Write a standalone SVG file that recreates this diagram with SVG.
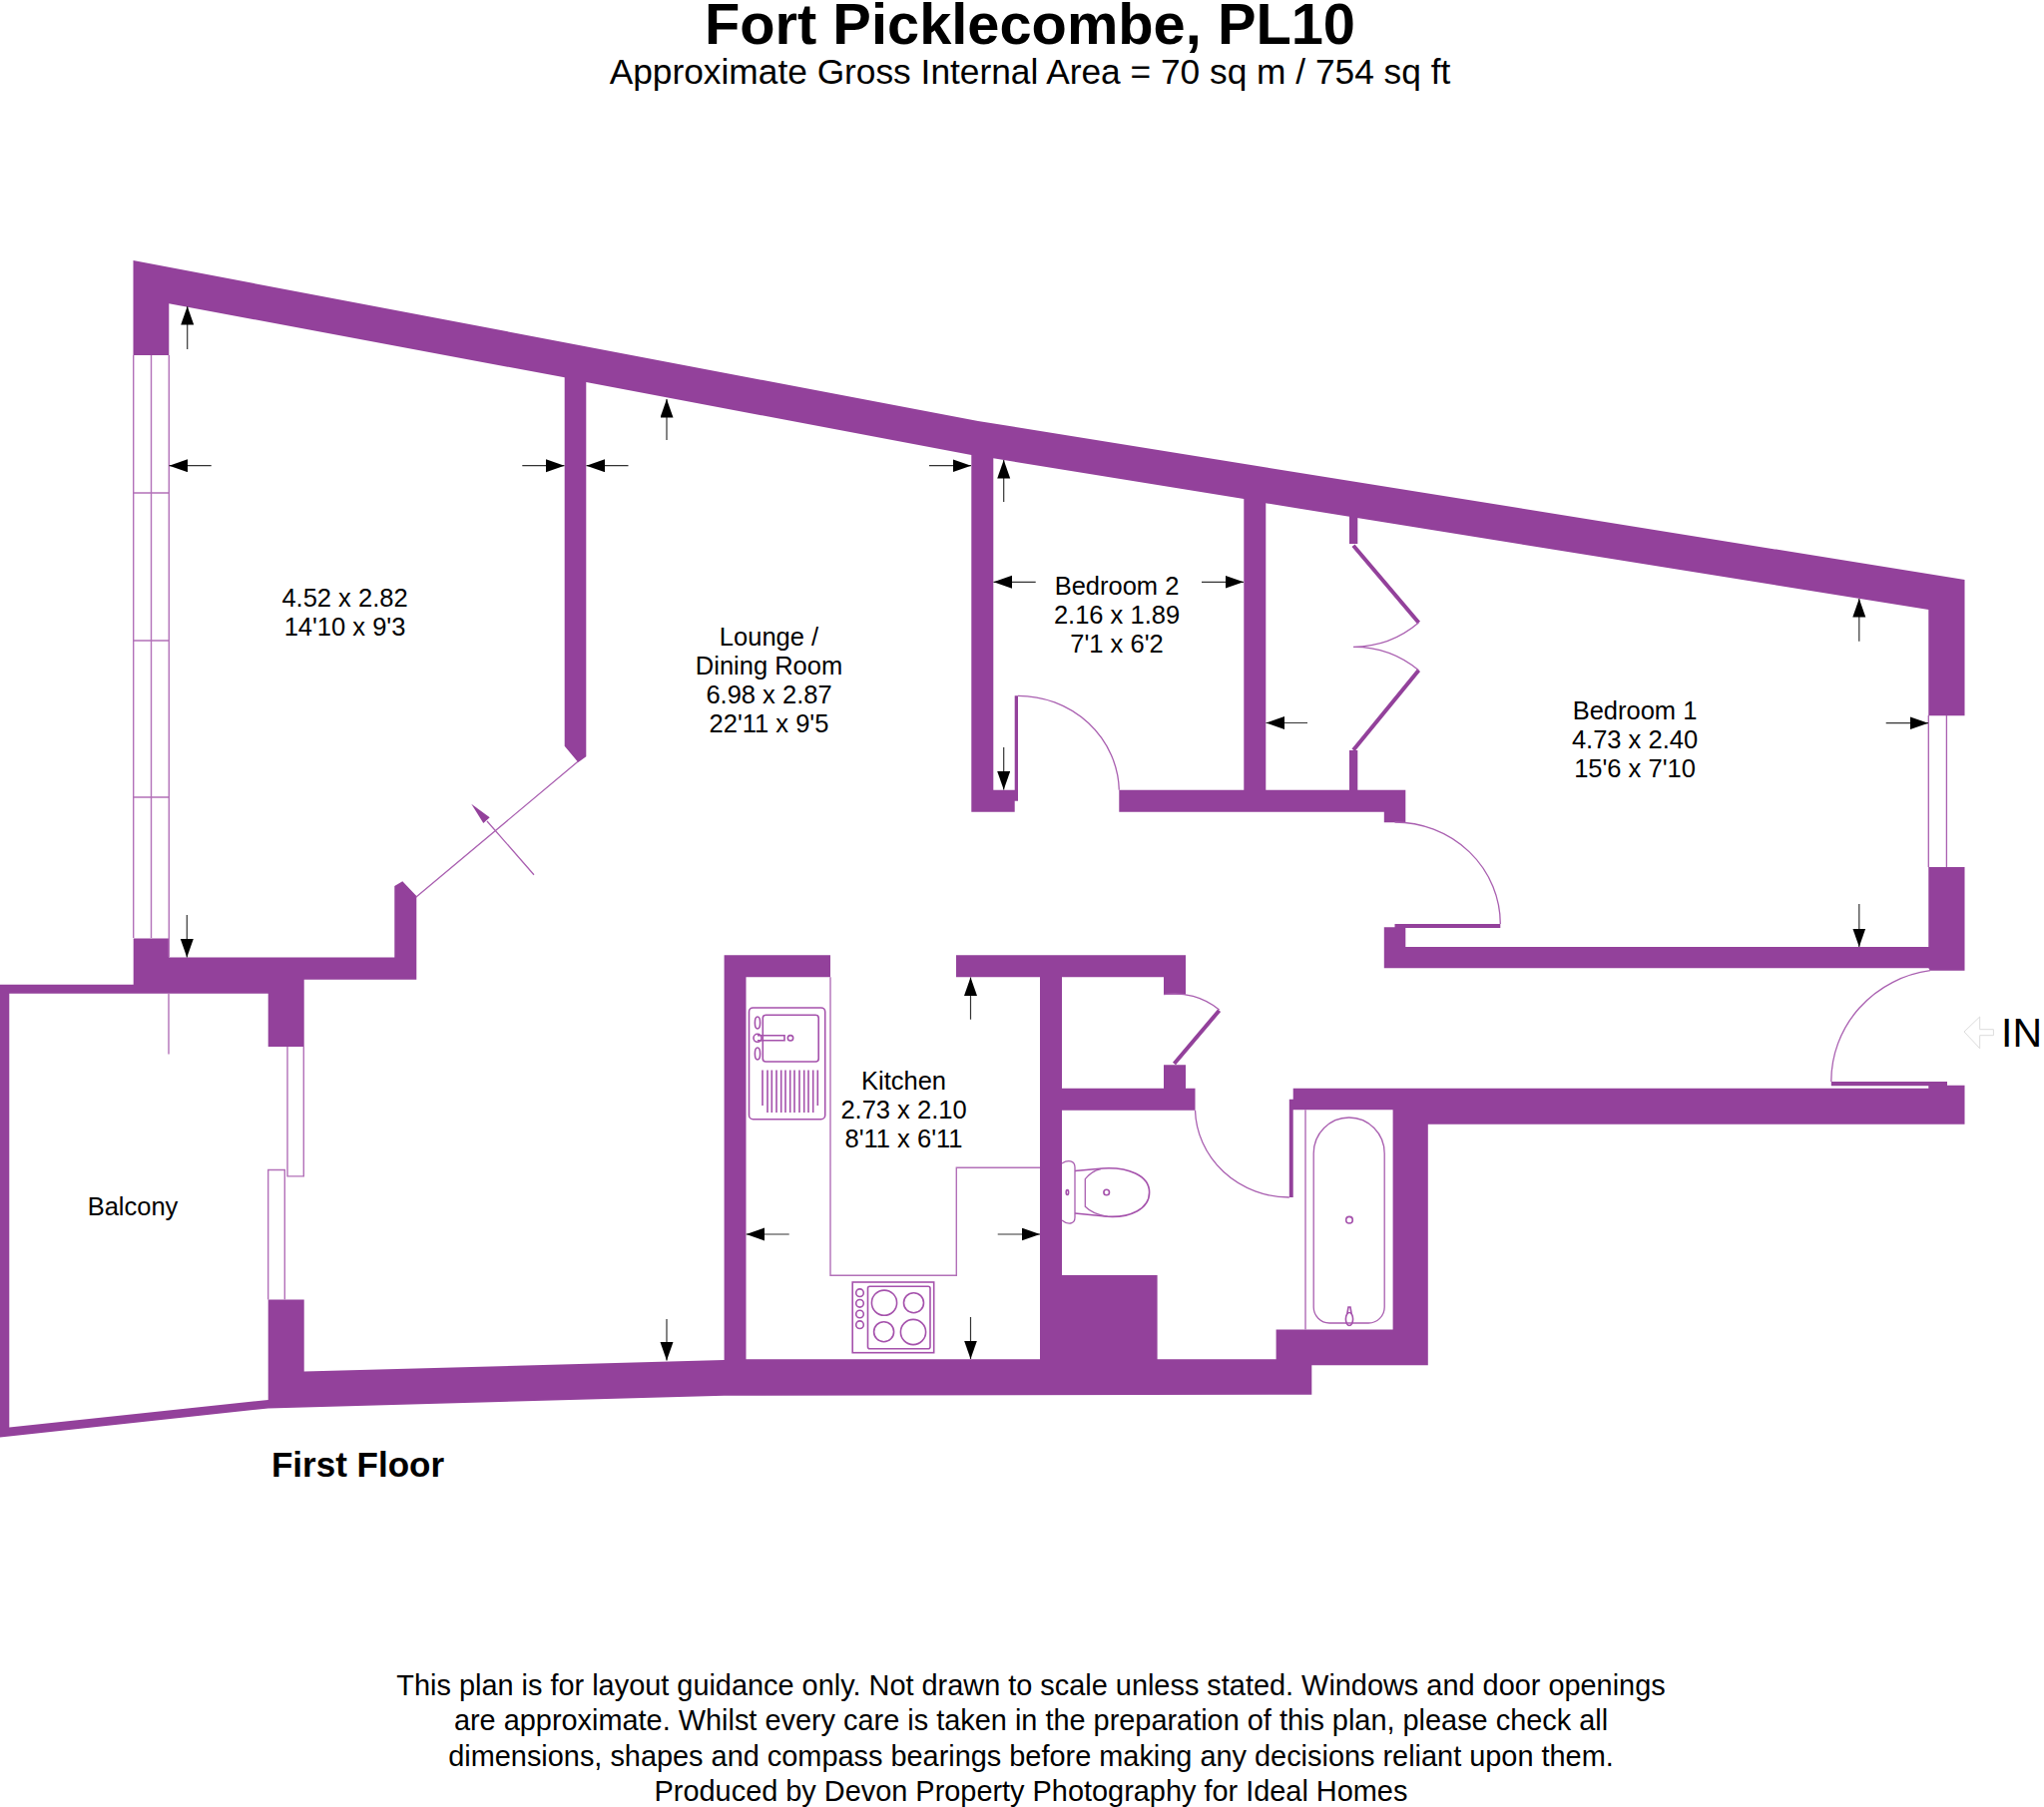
<svg xmlns="http://www.w3.org/2000/svg" width="2048" height="1811" viewBox="0 0 2048 1811">
<style>
.w{fill:#93419b}
.t{fill:none;stroke:#b270b8;stroke-width:1.4}
.d{fill:none;stroke:#a95fb0;stroke-width:1.3}
.f{fill:none;stroke:#a552ac;stroke-width:1.6}
.a{stroke:#333;stroke-width:1.2;fill:none;marker-end:url(#ah)}
text{font-family:"Liberation Sans",Arial,sans-serif;fill:#000;text-anchor:middle}
.r{font-size:25.5px}
</style>
<defs>
<marker id="ah" markerUnits="userSpaceOnUse" markerWidth="20" markerHeight="14" refX="18.5" refY="6.5" orient="auto"><path d="M0,0L18.5,6.5L0,13Z" fill="#000"/></marker>
</defs>
<rect width="2048" height="1811" fill="#fff"/>
<g id="title">
<text x="1032" y="44" font-size="57.8" font-weight="bold">Fort Picklecombe, PL10</text>
<text x="1032" y="84" font-size="35.3">Approximate Gross Internal Area = 70 sq m / 754 sq ft</text>
</g>
<g id="walls">
<path class="w" d="M133.5,261L980,422L1968.5,581V717.3H1932.3V611L1268.3,504.3V791.7H1352V752H1360.3V791.7H1408.3V824.3H1386.8V813.7H1121.3V791.7H1246.3V500L995.3,459.3V791.7H1016.7V697.3H1020V802.7H1016.7V813.7H973.3V456L587.3,383V758.3L579.3,764L565.7,747.7V378.3L169.3,304.3V356H133.5Z"/>
<path class="w" d="M1352,515H1360.3V545H1352Z"/>
<path class="w" d="M1386.8,929.3H1397.5V926H1503.3V930H1408.3V949H1932.3V869H1968.5V972.7H1934L1932.3,970.3H1386.8Z"/>
<path class="w" d="M0,986.8H133.7V940.4H169.3V959.6H395.3V888L403.3,883.3L417.3,898V981.8H304.7V1048.9H268.7V995.7H9.3V1430.4L268.7,1402.9V1302.5H304.7V1374.6L725.6,1363V957.3H832V979.3H747.5V1362.3H1042V979.3H958V957.3H1188V996.7H1166V979.3H1064V1090.7H1166V1067.3H1188V1090.7H1197.5V1112.7H1064V1278H1159.6V1362.3H1278.6V1332.5H1395.6V1112.3H1295.7V1200H1291.8V1101.7H1295.7V1090.7H1932.3V1088.3H1834.8V1084H1951V1087.7H1968.5V1126.7H1430.8V1368.3H1314.3V1397.7L725.6,1398.7L268.7,1411.4L0,1440.4Z"/>
<path d="M1176.5,1066L1221.6,1012.7M1356,546.7L1421.5,624M1421.5,671.7L1356,751.7" stroke="#93419b" stroke-width="4" fill="none"/>
</g>
<g id="windows">
<path class="t" d="M133.7,356V940M151.5,356V940M169.3,356V959M133.7,494H169.3M133.7,642H169.3M133.7,799H169.3M169,995V1056.4"/>
<path class="t" d="M288,1049V1178.9H304.3V1049M268.7,1302.5V1172.5H285.3V1302.5"/>
<path class="d" d="M1932.3,717V869M1950.4,717V869"/>
</g>
<g id="doors">
<path class="d" d="M1397.5,824A105.8,102 0 0 1 1503.3,926M1020,697.3A101.3,97 0 0 1 1121.3,791.7M1934,972.7A115,112 0 0 0 1834.8,1084M1197.5,1112.7A94.3,90 0 0 0 1291.8,1200M1166,996.7A70,70 0 0 1 1221.6,1012M1421.5,624A102,102 0 0 1 1356,648.3A102,102 0 0 1 1421.5,671.7"/>
<path class="d" d="M579.3,763L416.7,899.3M535,876.7L488,823"/>
<path d="M472.3,805.7L490.7,819.3L484.3,825Z" fill="#93419b"/>
</g>
<g id="kitchen-fittings">
<path class="t" d="M832,979.3V1278.3H958.3V1170.3H1042"/>
<g id="sink" class="f">
<rect class="f" x="750.5" y="1010" width="76.2" height="111.7" rx="4"/>
<rect class="f" x="764.3" y="1017.3" width="55.9" height="46.7" rx="3"/>
<circle class="f" cx="759" cy="1040.3" r="4"/>
<path class="f" d="M759,1037.8H786V1042.8H759"/>
<circle class="f" cx="792" cy="1040.3" r="2.7"/>
<ellipse class="f" cx="759" cy="1025" rx="2.6" ry="6"/>
<ellipse class="f" cx="759" cy="1056" rx="2.6" ry="6"/>
<path class="f" d="M764,1072.5V1108M769,1072.5V1115M773.3,1072.5V1115M778,1072.5V1115M782.7,1072.5V1115M787,1072.5V1115M791.7,1072.5V1115M796,1072.5V1115M801,1072.5V1115M805.7,1072.5V1115M810,1072.5V1115M814.7,1072.5V1115M819.3,1072.5V1108"/>
</g>
<g id="hob">
<rect class="f" x="854.2" y="1285" width="81.5" height="70.7"/>
<rect class="f" x="869.5" y="1289.3" width="62.5" height="62.4" rx="2"/>
<circle class="f" cx="861.5" cy="1295.7" r="3.8"/><circle class="f" cx="861.5" cy="1306.3" r="3.8"/><circle class="f" cx="861.5" cy="1317" r="3.8"/><circle class="f" cx="861.5" cy="1327.7" r="3.8"/>
<circle class="f" cx="886" cy="1305.7" r="12.6"/><circle class="f" cx="915.5" cy="1305.7" r="10"/><circle class="f" cx="885.6" cy="1334.7" r="10"/><circle class="f" cx="915" cy="1335" r="12.6"/>
</g>
</g>
<g id="bathroom-fittings">
<path class="f" d="M1077,1173.5L1105,1171C1130,1169.5 1151.6,1178 1151.6,1195C1151.6,1212 1132,1220.5 1110,1219.3L1077,1216"/>
<path class="d" d="M1103,1171.5C1096,1173 1091,1177 1087.3,1181.7V1209.3C1092,1214 1100,1218 1110,1219.3"/>
<path class="d" d="M1064,1166C1070,1162 1077,1163 1077,1170V1220C1077,1227 1070,1228 1064,1223"/>
<circle class="f" cx="1108.7" cy="1195" r="2.8"/><ellipse class="f" cx="1069.4" cy="1195" rx="1.2" ry="2.4"/>
<path class="d" d="M1308,1112.3V1332.5"/>
<path class="d" d="M1316.2,1156A35.5,36 0 0 1 1387.2,1156V1310A16,16 0 0 1 1371,1326H1332A16,16 0 0 1 1316.2,1310Z"/>
<circle class="f" cx="1352" cy="1222.7" r="3.3"/>
<ellipse class="f" cx="1352" cy="1322" rx="3.6" ry="6.5"/><path class="f" d="M1349.8,1317L1351,1310H1353L1354.2,1317"/>
</g>
<g id="entrance">
<path d="M1968,1034L1983.7,1019V1031.7H1997.4V1037.7H1983.7V1050.7Z" fill="#fff" stroke="#dcdcdc" stroke-width="1"/>
<text x="2025.5" y="1049" font-size="41">IN</text>
</g>
<g id="dimension-arrows">
<path class="a" d="M187.7,350V307"/>
<path class="a" d="M211.7,466.7H169.5"/>
<path class="a" d="M523.3,466.7H565.5"/>
<path class="a" d="M629.5,466.7H587.5"/>
<path class="a" d="M668,441V400"/>
<path class="a" d="M668,1322V1363.5"/>
<path class="a" d="M931,466.7H973"/>
<path class="a" d="M187.3,917V959.5"/>
<path class="a" d="M1005.7,503V461"/>
<path class="a" d="M1005.7,749V791.5"/>
<path class="a" d="M1037.7,583.3H995.5"/>
<path class="a" d="M1204,583.3H1246"/>
<path class="a" d="M1310,724.5H1268.5"/>
<path class="a" d="M1862.8,642.7V600"/>
<path class="a" d="M1862.8,906V949"/>
<path class="a" d="M1889.7,724.7H1932"/>
<path class="a" d="M972.5,1021.7V979.5"/>
<path class="a" d="M972.5,1320V1362"/>
<path class="a" d="M790.7,1237H747.7"/>
<path class="a" d="M999.7,1237H1042"/>
</g>
<g id="room-labels">
<g id="room-1"><text class="r" x="345.5" y="608.3">4.52 x 2.82</text><text class="r" x="345.5" y="636.7">14'10 x 9'3</text></g>
<g id="lounge"><text class="r" x="770.5" y="647">Lounge /</text><text class="r" x="770.5" y="675.7">Dining Room</text><text class="r" x="770.5" y="704.6">6.98 x 2.87</text><text class="r" x="770.5" y="733.5">22'11 x 9'5</text></g>
<g id="bedroom-2"><text class="r" x="1119" y="596">Bedroom 2</text><text class="r" x="1119" y="625">2.16 x 1.89</text><text class="r" x="1119" y="654">7'1 x 6'2</text></g>
<g id="bedroom-1"><text class="r" x="1638" y="721">Bedroom 1</text><text class="r" x="1638" y="750">4.73 x 2.40</text><text class="r" x="1638" y="779">15'6 x 7'10</text></g>
<g id="kitchen"><text class="r" x="905.5" y="1092.3">Kitchen</text><text class="r" x="905.5" y="1121">2.73 x 2.10</text><text class="r" x="905.5" y="1149.7">8'11 x 6'11</text></g>
<g id="balcony"><text class="r" x="133" y="1218">Balcony</text></g>
</g>
<text x="358.5" y="1480" font-size="35" font-weight="bold">First Floor</text>
<g id="disclaimer" font-size="28.9">
<text x="1033" y="1699">This plan is for layout guidance only. Not drawn to scale unless stated. Windows and door openings</text>
<text x="1033" y="1734">are approximate. Whilst every care is taken in the preparation of this plan, please check all</text>
<text x="1033" y="1769.5">dimensions, shapes and compass bearings before making any decisions reliant upon them.</text>
<text x="1033" y="1805">Produced by Devon Property Photography for Ideal Homes</text>
</g>
</svg>
